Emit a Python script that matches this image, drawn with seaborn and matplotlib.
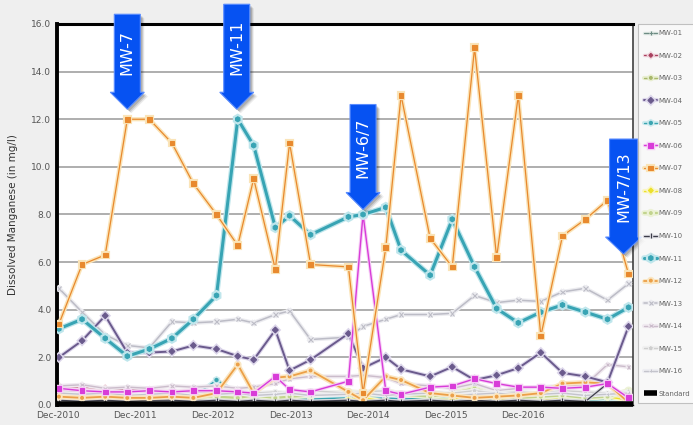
import numpy as np
import pandas as pd
import matplotlib
matplotlib.use("Agg")
import matplotlib.pyplot as plt
import matplotlib.dates as mdates
import matplotlib.patheffects as pe
from matplotlib.patches import Polygon
from matplotlib.transforms import Affine2D, ScaledTranslation
from matplotlib import font_manager as fm
import seaborn as sns

# ---------------- data ----------------
sample_dates = ["2010-12-06", "2011-03-25", "2011-07-12", "2011-10-24", "2012-02-05",
                "2012-05-21", "2012-08-30", "2012-12-17", "2013-03-27", "2013-06-10",
                "2013-09-20", "2013-11-26", "2014-03-05", "2014-08-30", "2014-11-07",
                "2015-02-22", "2015-05-05", "2015-09-19", "2016-01-01", "2016-04-15",
                "2016-07-28", "2016-11-07", "2017-02-21", "2017-06-03", "2017-09-19",
                "2018-01-01", "2018-04-10"]

mw01 = [0.10, 0.12, 0.10, 0.08, 0.10, 0.12, 0.10, 0.15, 0.10, 0.10, 0.12, 0.10, 0.08, 0.10,
        0.12, 0.10, 0.10, 0.12, 0.10, 0.08, 0.10, 0.12, 0.10, 0.10, 0.08, 0.10, 0.12]
mw02 = [0.80, 0.75, 0.70, 0.65, 0.60, 0.55, 0.60, 0.50, 0.45, 0.50, 0.45, 0.40, 0.45, 0.40,
        0.35, 0.40, 0.35, 0.30, 0.35, 0.30, 0.35, 0.30, 0.35, 0.30, 0.30, 0.35, 0.30]
mw03 = [0.25, 0.30, 0.20, 0.25, 0.30, 0.25, 0.20, 0.30, 0.25, 0.20, 0.30, 0.25, 0.20, 0.30,
        0.45, 0.30, 0.20, 0.25, 0.30, 0.40, 0.20, 0.25, 0.30, 0.20, 0.25, 0.30, 0.40]
mw04 = [2.00, 2.70, 3.75, 2.20, 2.20, 2.25, 2.50, 2.35, 2.05, 1.90, 3.15, 1.45, 1.90, 3.00,
        1.55, 2.00, 1.50, 1.20, 1.60, 1.05, 1.25, 1.55, 2.20, 1.35, 1.20, 0.95, 3.30]
mw05 = [0.40, 0.35, 0.30, 0.35, 0.30, 0.30, 0.35, 1.05, 0.50, 0.30, 0.25, 0.30, 0.25, 0.30,
        0.25, 0.30, 0.25, 0.30, 0.25, 0.30, 0.20, 0.25, 0.30, 0.25, 0.20, 0.25, 0.30]
mw06 = [0.70, 0.60, 0.55, 0.55, 0.60, 0.55, 0.60, 0.60, 0.55, 0.50, 1.20, 0.65, 0.55, 1.00,
        8.00, 0.60, 0.45, 0.75, 0.80, 1.10, 0.90, 0.75, 0.75, 0.70, 0.75, 0.90, 0.30]
mw07 = [3.40, 5.90, 6.30, 12.0, 12.0, 11.0, 9.30, 8.00, 6.70, 9.50, 5.70, 11.0, 5.90, 5.80,
        0.50, 6.60, 13.0, 7.00, 5.80, 15.0, 6.20, 13.0, 2.90, 7.10, 7.80, 8.60, 5.50]
mw08 = [0.15, 0.20, 0.10, 0.15, 0.20, 0.15, 0.10, 0.20, 0.15, 0.10, 0.20, 0.15, 0.10, 0.20,
        0.30, 0.15, 0.10, 0.20, 0.20, 0.60, 0.25, 0.15, 0.20, 0.30, 0.35, 0.35, 0.20]
mw09 = [0.40, 0.45, 0.35, 0.40, 0.35, 0.30, 0.40, 0.35, 0.30, 0.40, 0.30, 0.35, 0.40, 0.55,
        0.50, 0.60, 0.45, 0.35, 0.50, 0.70, 0.40, 0.30, 0.35, 0.40, 0.30, 0.35, 0.60]
mw10 = [0.20, 0.15, 0.20, 0.15, 0.20, 0.20, 0.15, 0.20, 0.15, 0.20, 0.15, 0.20, 0.15, 0.20,
        0.15, 0.20, 0.15, 0.20, 0.15, 0.20, 0.15, 0.20, 0.15, 0.20, 0.15, 0.90, 0.02]
mw11 = [3.20, 3.60, 2.80, 2.05, 2.35, 2.80, 3.60, 4.60, 12.0, 10.9, 7.45, 7.95, 7.15, 7.90,
        8.00, 8.30, 6.50, 5.45, 7.80, 5.80, 4.05, 3.45, 3.90, 4.20, 3.90, 3.60, 4.10]
mw12 = [0.35, 0.30, 0.35, 0.30, 0.30, 0.35, 0.30, 0.50, 1.70, 0.50, 1.15, 1.20, 1.45, 0.55,
        0.20, 1.20, 1.05, 0.50, 0.40, 0.30, 0.35, 0.40, 0.50, 0.90, 0.95, 0.90, 0.10]
mw13 = [4.90, 3.90, 2.95, 2.50, 2.40, 3.50, 3.45, 3.50, 3.60, 3.45, 3.80, 3.95, 2.75, 2.85,
        3.30, 3.60, 3.80, 3.80, 3.85, 4.60, 4.30, 4.40, 4.35, 4.75, 4.90, 4.40, 5.10]
mw14 = [0.80, 0.85, 0.70, 0.75, 0.70, 0.80, 0.75, 0.80, 0.70, 0.75, 0.90, 1.10, 1.20, 1.20,
        1.25, 1.15, 0.90, 0.80, 0.70, 0.90, 0.60, 0.70, 0.75, 0.80, 0.85, 1.70, 1.60]
mw15 = [0.60, 0.55, 0.50, 0.55, 0.50, 0.60, 0.50, 0.55, 0.60, 0.50, 0.55, 0.50, 0.60, 0.50,
        0.55, 0.60, 0.50, 0.55, 0.50, 0.60, 0.50, 0.55, 0.50, 0.60, 0.55, 0.50, 0.55]
mw16 = [0.50, 0.45, 0.50, 0.40, 0.45, 0.50, 0.40, 0.45, 0.50, 0.40, 0.45, 0.50, 0.40, 0.45,
        0.50, 0.40, 0.45, 0.50, 0.40, 0.45, 0.50, 0.40, 0.45, 0.50, 0.40, 0.45, 0.50]

standard_dates = ["2010-11-27", "2018-05-01"]
standard_values = [0.05, 0.05]

wells = ["MW-01", "MW-02", "MW-03", "MW-04", "MW-05", "MW-06", "MW-07", "MW-08",
         "MW-09", "MW-10", "MW-11", "MW-12", "MW-13", "MW-14", "MW-15", "MW-16"]
well_values = [mw01, mw02, mw03, mw04, mw05, mw06, mw07, mw08,
               mw09, mw10, mw11, mw12, mw13, mw14, mw15, mw16]

x_tick_dates = ["2010-12-01", "2011-12-01", "2012-12-01", "2013-12-01",
                "2014-12-01", "2015-12-01", "2016-12-01"]
y_ticks = [0, 2, 4, 6, 8, 10, 12, 14, 16]

# annotations: label, well, sample index
ann_labels = ["MW-7", "MW-11", "MW-6/7", "MW-7/13"]
ann_wells = ["MW-07", "MW-11", "MW-06", "MW-07"]
ann_index = [3, 8, 14, 26]

# ---------------- styles ----------------
# color, linewidth, marker, markersize, halo color, halo width, zorder
styles = {
    "MW-01": ("#6e8c84", 0.9, "+", 3.0, "#dfe8e4", 2.5, 2),
    "MW-02": ("#a8405e", 0.9, "D", 2.0, "#f0d4dc", 2.5, 2),
    "MW-03": ("#a8b86c", 1.0, "o", 2.0, "#e8eed0", 3.0, 2),
    "MW-04": ("#6a5a8c", 1.4, "D", 3.0, "#dcd6ea", 3.0, 4),
    "MW-05": ("#3aa4b0", 1.0, "h", 2.5, "#cceaee", 3.0, 2),
    "MW-06": ("#d83cd8", 1.0, "s", 3.4, "#f6d0f6", 2.5, 5),
    "MW-07": ("#e8892e", 0.9, "s", 3.4, "#fae4b8", 3.0, 7),
    "MW-08": ("#ece02c", 1.0, "D", 2.5, "#faf6c4", 3.0, 2),
    "MW-09": ("#c2d48e", 1.6, "o", 2.0, "#ecf2d6", 4.0, 2),
    "MW-10": ("#3c3c48", 0.9, "|", 3.0, "#d8d8de", 2.5, 3),
    "MW-11": ("#38a4b4", 2.2, "h", 3.6, "#bfe6ec", 4.0, 6),
    "MW-12": ("#eca048", 1.3, "o", 2.0, "#fae6c2", 3.5, 3),
    "MW-13": ("#bcbcc6", 1.1, "x", 3.2, "#ececf0", 3.0, 3),
    "MW-14": ("#cbbccb", 1.0, "x", 2.5, "#f0eaf0", 3.0, 2),
    "MW-15": ("#cfcfcf", 1.0, "*", 2.5, "#f0f0f0", 3.0, 2),
    "MW-16": ("#c4c4cc", 1.0, "+", 2.5, "#eeeef2", 3.0, 2),
}

rows = []
for w, vals in zip(wells, well_values):
    for d, v in zip(sample_dates, vals):
        rows.append((w, pd.Timestamp(d), v))
df = pd.DataFrame(rows, columns=["well", "date", "value"])
std_df = pd.DataFrame({"date": pd.to_datetime(standard_dates), "value": standard_values})

# ---------------- figure ----------------
sns.set_style("white")
plt.rcParams["font.family"] = ["DejaVu Sans"]

names = {f.name for f in fm.fontManager.ttflist}
narrow = "Liberation Sans Narrow" if "Liberation Sans Narrow" in names else None
ann_font = narrow if narrow else "DejaVu Sans"

fig = plt.figure(figsize=(6.93, 4.25), dpi=100, facecolor="#efefef")
ax = fig.add_axes([57 / 693, 20 / 425, 576 / 693, 381 / 425])
ax.set_facecolor("white")

for w in wells:
    c, lw, mk, ms, hc, hw, z = styles[w]
    sub = df[df["well"] == w]
    sns.lineplot(data=sub, x="date", y="value", ax=ax, color=c, linewidth=lw,
                 marker=mk, markersize=ms, markeredgecolor=c, markerfacecolor=c,
                 markeredgewidth=0.8, estimator=None, sort=False, label=w, zorder=z)
    line = ax.lines[-1]
    line.set_path_effects([pe.Stroke(linewidth=hw, foreground=hc), pe.Normal()])

sns.lineplot(data=std_df, x="date", y="value", ax=ax, color="black", linewidth=4,
             estimator=None, label="Standard", zorder=9)
ax.lines[-1].set_solid_capstyle("butt")
ax.lines[-1].set_clip_on(False)

# axes
ax.set_xlim(pd.Timestamp("2010-11-27"), pd.Timestamp("2018-05-01"))
ax.set_ylim(0, 16)
ax.set_yticks(y_ticks)
ax.set_yticklabels([f"{v:.1f}" for v in y_ticks])
xt = pd.to_datetime(x_tick_dates)
ax.set_xticks(xt)
ax.set_xticklabels([d.strftime("%b-%Y") for d in xt])
ax.tick_params(axis="both", labelsize=6.5, labelcolor="#555555", colors="#888888",
               length=2, width=0.8, pad=2)
ax.tick_params(axis="x", length=0, pad=4)
ax.set_xlabel("")
ax.set_ylabel("Dissolved Manganese (in mg/l)", fontsize=7.5, color="#333333")
ax.yaxis.set_label_coords(-39 / 576, 0.5)
ax.yaxis.grid(True, color="#a8a8a8", linewidth=1.3, zorder=0)
ax.xaxis.grid(False)
ax.set_axisbelow(True)

for side, lw, col in [("left", 2.8, "black"), ("top", 2.2, "black"),
                      ("right", 1.2, "#404040"), ("bottom", 1.0, "black")]:
    ax.spines[side].set_visible(True)
    ax.spines[side].set_linewidth(lw)
    ax.spines[side].set_color(col)
ax.spines["top"].set_zorder(10)

# legend (frame runs off the right edge as in the reference; texts kept inside)
handles, labels = ax.get_legend_handles_labels()
if ax.get_legend() is not None:
    ax.get_legend().remove()
order = wells + ["Standard"]
hmap = dict(zip(labels, handles))
leg = fig.legend([hmap[l] for l in order], order, loc="upper left",
                 bbox_to_anchor=(638 / 693, 1 - 24 / 425),
                 prop={"size": 5.0, "family": narrow if narrow else "DejaVu Sans"},
                 labelspacing=2.38, handlelength=1.9, handletextpad=0.2,
                 borderpad=0.9, borderaxespad=0, frameon=True, fancybox=False)
leg.get_frame().set_facecolor("#fbfbfb")
leg.get_frame().set_edgecolor("#b4b4b4")
leg.get_frame().set_linewidth(0.8)
for t in leg.get_texts():
    t.set_color("#666666")

# annotation arrows (blue callouts)
arrow_geom = {  # tip offset x, tip offset y, body height (pixels)
    "MW-7": (0, 10, 78),
    "MW-11": (-1, 10, 88),
    "MW-6/7": (0, 5, 88),
    "MW-7/13": (-5, 20, 98),
}
for lab, w, idx in zip(ann_labels, ann_wells, ann_index):
    xd = mdates.date2num(pd.Timestamp(sample_dates[idx]))
    yd = well_values[wells.index(w)][idx]
    dx, dy, h = arrow_geom[lab]
    hw_body = 14 if lab == "MW-7/13" else 13
    hw_head = 18 if lab == "MW-7/13" else 17
    hh = 17
    verts = [(0, 0), (hw_head, hh), (hw_body, hh), (hw_body, hh + h),
             (-hw_body, hh + h), (-hw_body, hh), (-hw_head, hh)]
    base = ScaledTranslation(xd, yd, ax.transData)
    for k, a in [(4, 0.08), (3, 0.12), (2, 0.15)]:
        sh = Polygon(verts, closed=True, facecolor="black", edgecolor="none", alpha=a,
                     transform=Affine2D().translate(dx + k, dy - k) + base,
                     clip_on=False, zorder=11)
        ax.add_patch(sh)
    poly = Polygon(verts, closed=True, facecolor="#0652f2", edgecolor="#5a8cff",
                   linewidth=0.8, transform=Affine2D().translate(dx, dy) + base,
                   clip_on=False, zorder=12)
    ax.add_patch(poly)
    ax.text(0, 0, lab, rotation=90, ha="center", va="center", color="white",
            fontsize=14 if narrow else 11.5, family=ann_font,
            transform=Affine2D().translate(dx, dy + hh + h / 2 + 1) + base,
            zorder=13, clip_on=False)

fig.savefig("out.png", dpi=100, facecolor=fig.get_facecolor())
